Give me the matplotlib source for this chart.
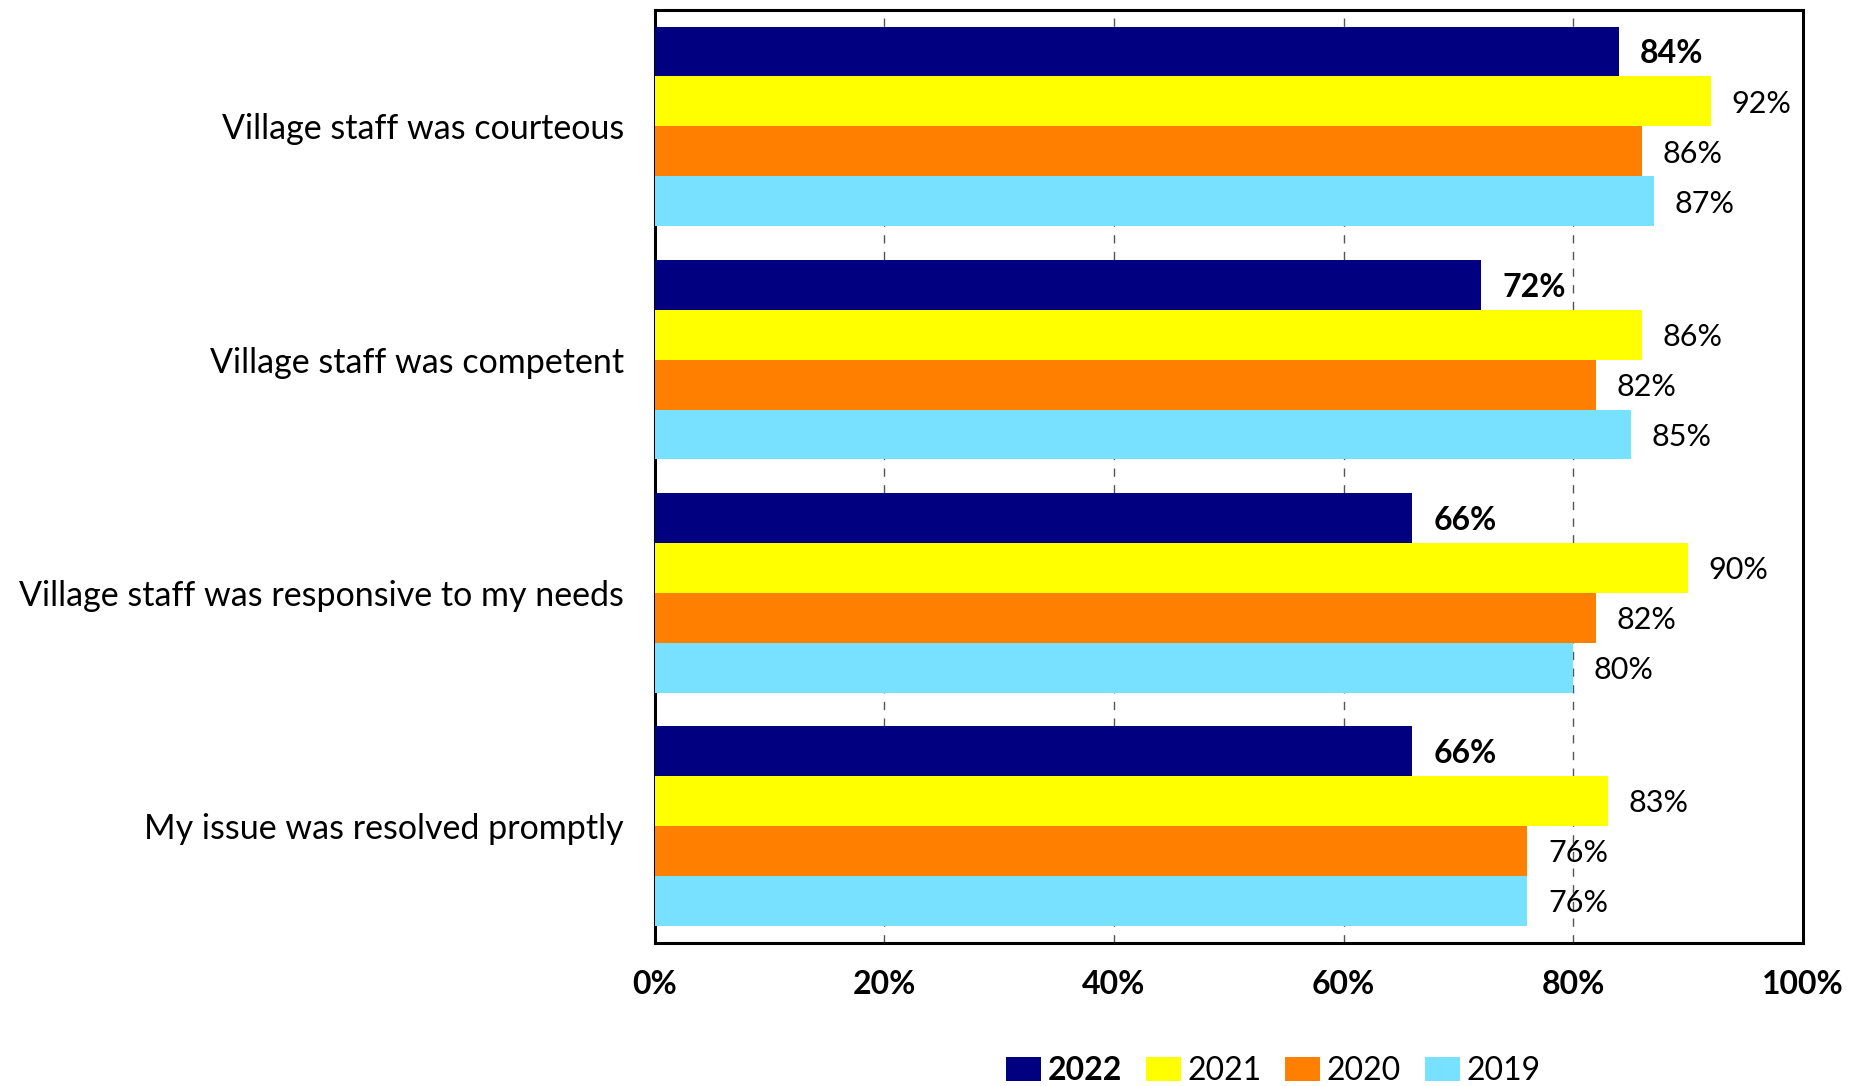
import matplotlib
matplotlib.use("Agg")
import matplotlib.pyplot as plt
import numpy as np

plt.rcParams['font.family'] = ['Lato', 'DejaVu Sans']

categories = ["Village staff was courteous",
              "Village staff was competent",
              "Village staff was responsive to my needs",
              "My issue was resolved promptly"]
years = ["2022", "2021", "2020", "2019"]
v2022 = [84, 72, 66, 66]
v2021 = [92, 86, 90, 83]
v2020 = [86, 82, 82, 76]
v2019 = [87, 85, 80, 76]
series = [v2022, v2021, v2020, v2019]
colors = ["#000080", "#FFFF00", "#FF8000", "#78E1FF"]
xticks = [0, 20, 40, 60, 80, 100]

fig = plt.figure(figsize=(18.66, 10.86), dpi=100)
ax = fig.add_axes([0.3508, 0.132, 0.6154, 0.859])

n = len(categories)
bh = 0.214
y0 = np.arange(n)
for i, (vals, col, yr) in enumerate(zip(series, colors, years)):
    ys = y0 + (i - 1.5) * bh
    ax.barh(ys, vals, height=bh, color=col, label=yr, zorder=3)
    for y, v in zip(ys, vals):
        ax.text(v + 1.8, y + 0.01, f"{v}%", va='center', ha='left',
                fontsize=23 if i == 0 else 22,
                fontweight='bold' if i == 0 else 'normal', zorder=4)

ax.set_ylim(n - 0.5, -0.5)
ax.set_xlim(0, 100)
ax.set_yticks(y0)
ax.set_yticklabels(categories, fontsize=24.5)
ax.set_xticks(xticks)
ax.set_xticklabels([f"{t}%" for t in xticks], fontsize=23, fontweight='bold')
ax.tick_params(axis='both', length=0)
ax.tick_params(axis='x', pad=20)
ax.tick_params(axis='y', pad=22)
ax.grid(axis='x', linestyle=(0, (6, 6)), color='#555555', linewidth=1, zorder=0)
ax.grid(axis='y', visible=False)
for s in ax.spines.values():
    s.set_linewidth(2.2)
    s.set_color('black')

leg = fig.legend(loc='center', bbox_to_anchor=(0.6823, 0.0138), ncol=4, frameon=False,
                 fontsize=23, handlelength=1.1, handleheight=0.8, handletextpad=0.2,
                 columnspacing=0.75, borderpad=0.1)
for t in leg.get_texts():
    if t.get_text() == "2022":
        t.set_fontweight('bold')

fig.savefig("out.png", dpi=100)
